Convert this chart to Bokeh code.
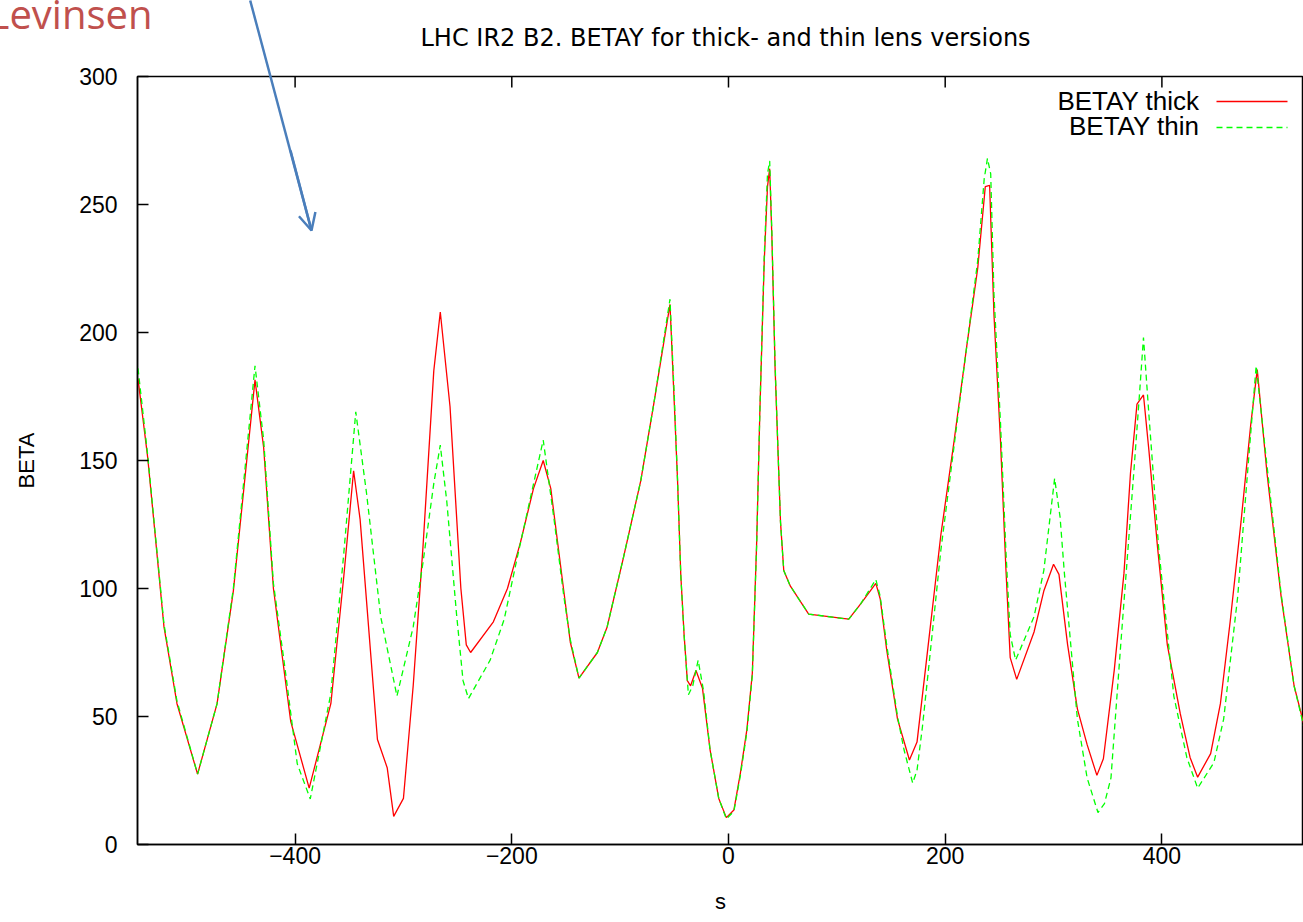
from bokeh.plotting import figure
from bokeh.models import Range1d, FixedTicker, Label, Arrow, OpenHead, ColumnDataSource
from bokeh.core.properties import value
from bokeh.embed import file_html
from bokeh.resources import INLINE

# ---------------- data ----------------
title_text = "LHC IR2 B2. BETAY for thick- and thin lens versions"
x_label = "s"
y_label = "BETA"
series_names = ["BETAY thick", "BETAY thin"]
note_text = "Levinsen"

x_ticks = [-400, -200, 0, 200, 400]
y_ticks = [0, 50, 100, 150, 200, 250, 300]

thick_s = [-545, -536, -521, -509, -490, -472, -457, -437, -429, -420,
           -404, -387, -367, -355, -346, -340, -324, -315, -309, -300,
           -291, -282, -272, -266, -257, -247, -242, -238, -217, -204,
           -192, -180, -171, -164, -155, -146, -138, -121, -112, -97,
           -81, -69, -54, -50, -47, -44, -41, -38, -35, -30,
           -24, -17, -9, -2, 5, 11, 17, 22, 26, 29,
           33, 36, 38, 40, 43, 46, 48, 51, 57, 74,
           111, 122, 136, 140, 146, 156, 167, 174, 183, 196,
           208, 220, 230, 237, 241, 245, 251, 256, 260, 266,
           282, 291, 300, 305, 313, 322, 331, 340, 346, 356,
           365, 371, 377, 383, 388, 396, 405, 417, 426, 433,
           445, 454, 463, 473, 482, 488, 497, 510, 522, 531]
thick_beta = [182, 151, 85, 55, 27.5, 55, 99, 181.5, 155, 100,
              48, 22, 55, 105, 146, 127, 41, 30, 11, 18,
              62, 116, 185, 208, 171, 100, 78, 75, 87, 100,
              118, 139, 150, 139, 109, 79, 65, 75, 85, 112,
              142, 172, 211, 172, 142, 105, 82, 64, 62, 68,
              61, 37, 18, 10.5, 13.5, 28, 45, 67, 118, 170,
              228, 257, 264, 238, 186, 150, 126, 107, 101, 90,
              88, 94, 102, 96, 76, 49, 33, 40, 73, 121,
              157, 195, 225, 257, 257.5, 207, 158, 108, 73, 64.5,
              83, 99, 109.5, 105.5, 78, 53, 39, 27, 33.5, 68,
              106, 145, 172, 175.6, 154, 116, 78, 51, 34, 26.3,
              35.5, 55, 87, 126, 164, 185.5, 145, 97, 62, 47]

thin_s = [-545, -536, -521, -509, -490, -472, -457, -437, -429, -420,
          -410, -398, -386, -367, -355, -344, -334, -321, -306, -291,
          -282, -272, -266, -260, -251, -245, -240, -220, -207, -195,
          -183, -171, -161, -152, -146, -138, -121, -112, -97, -81,
          -69, -54, -50, -47, -44, -41, -37, -33, -28, -23,
          -17, -9, -2, 5, 11, 17, 22, 26, 29, 33,
          36, 38, 40, 43, 46, 48, 51, 57, 74, 111,
          122, 136, 140, 146, 156, 162, 170, 174, 179, 185,
          196, 208, 220, 230, 236, 239, 242, 245, 251, 256,
          260, 265, 282, 291, 301, 306, 310, 322, 331, 341,
          347, 353, 362, 374, 379, 383, 388, 397, 411, 423,
          433, 448, 457, 470, 479, 487, 497, 510, 522, 531]
thin_beta = [186, 152, 86, 56, 27.5, 55, 100, 187, 158, 102,
             71, 31.5, 17.8, 59, 114, 169, 137, 89, 58, 85,
             110, 141, 156, 134, 90, 64, 57, 72, 88, 112,
             135, 158, 127, 97, 80, 65, 75, 85, 112, 142,
             172, 213, 175, 142, 105, 82, 58.5, 62, 72, 60,
             37, 18, 10, 13, 27, 44, 66, 117, 170, 230,
             262, 267, 240, 188, 150, 126, 107, 101, 90, 88,
             94, 103.5, 97, 78, 50, 37, 24, 29, 46, 70,
             115, 155, 195, 228, 260, 268, 262, 215, 165, 115,
             82, 72, 89, 107, 143, 128, 106, 49, 26, 12.5,
             16, 26, 78, 145, 174, 198, 168, 116, 58, 34,
             22, 32, 49, 97, 145, 187, 148, 98, 62, 46]

# ---------------- layout / styles ----------------
FRAME_L, FRAME_T = 137, 76
FRAME_W, FRAME_H = 1166, 768
X0 = -545.45
X1 = X0 + FRAME_W / 1.0835
Y0, Y1 = 0, 300
RED = "#ff0000"
GREEN = "#00ff00"
BLUE = "#4a7ebb"
NOTE_RED = "#c0504d"
FONT = "Liberation Sans"
TICK = 11

# canvas pixel -> data coordinates (used for decorations only)
def px2x(px):
    return X0 + (px - FRAME_L) * (X1 - X0) / FRAME_W

def py2y(py):
    return Y1 - (py - FRAME_T) * (Y1 - Y0) / FRAME_H

p = figure(frame_width=FRAME_W, frame_height=FRAME_H,
           x_range=Range1d(X0, X1), y_range=Range1d(Y0, Y1),
           output_backend="svg", toolbar_location=None,
           min_border_left=FRAME_L, min_border_right=0,
           min_border_top=FRAME_T, min_border_bottom=78,
           title=title_text, x_axis_label=x_label, y_axis_label=y_label)
p.outline_line_color = "black"
p.outline_line_width = 1.5
p.grid.visible = False
p.background_fill_color = "white"
p.border_fill_color = "white"

p.title.align = "left"
p.title.offset = 420 - FRAME_L
p.title.vertical_align = "top"
p.title.text_font = "DejaVu Sans"
p.title.text_font_size = "24px"
p.title.text_font_style = "normal"
p.title.text_color = "black"
p.title.standoff = 45

for ax in (p.xaxis[0], p.yaxis[0]):
    ax.major_tick_in = TICK
    ax.major_tick_out = 0
    ax.minor_tick_line_color = None
    ax.axis_line_width = 1.5
    ax.major_tick_line_width = 1.5
    ax.major_label_text_font = FONT
    ax.major_label_text_font_size = "23px"
    ax.major_label_text_color = "black"
    ax.axis_label_text_font = FONT
    ax.axis_label_text_font_size = "22px"
    ax.axis_label_text_font_style = "normal"
    ax.axis_label_text_color = "black"

p.xaxis[0].ticker = FixedTicker(ticks=x_ticks)
p.yaxis[0].ticker = FixedTicker(ticks=y_ticks)
p.xaxis[0].major_label_standoff = 2
p.xaxis[0].axis_label_standoff = 22
p.yaxis[0].major_label_standoff = 20
p.yaxis[0].axis_label_standoff = 37

# mirrored inward ticks on the top border (gnuplot style)
p.segment(x0=x_ticks, y0=[Y1] * len(x_ticks), x1=x_ticks,
          y1=[Y1 - TICK * (Y1 - Y0) / FRAME_H] * len(x_ticks),
          line_color="black", line_width=1.5)

src_thick = ColumnDataSource(dict(s=thick_s, beta=thick_beta))
src_thin = ColumnDataSource(dict(s=thin_s, beta=thin_beta))
p.line("s", "beta", source=src_thick, line_color=RED, line_width=1.3)
p.line("s", "beta", source=src_thin, line_color=GREEN, line_width=1.3, line_dash="6 4")

# gnuplot-style key: text right-aligned, sample line to the right
for name, col, dash, ty, ly in [(series_names[0], RED, "solid", 100.5, 101),
                                (series_names[1], GREEN, "6 4", 125.5, 127)]:
    p.add_layout(Label(x=px2x(1199), y=py2y(ty), text=name, text_align="right",
                       text_baseline="alphabetic", text_font=FONT,
                       text_font_size="26px", text_color="black"))
    p.add_layout(Arrow(end=None, x_start=px2x(1216), y_start=py2y(ly),
                       x_end=px2x(1287), y_end=py2y(ly),
                       line_color=col, line_width=1.3, line_dash=dash))

# slide annotation: "Levinsen" and the blue arrow (drawn above the frame)
p.text(x=[px2x(-12)], y=[py2y(13)], text=[note_text], text_font=value("Open Sans"),
       text_font_size=value("40px"), text_color=NOTE_RED,
       text_baseline="alphabetic", level="overlay")
p.segment(x0=[px2x(249.7)], y0=[py2y(0)], x1=[px2x(311)], y1=[py2y(230)],
          line_color=BLUE, line_width=2.5, level="overlay")
p.add_layout(Arrow(end=OpenHead(size=17, line_color=BLUE, line_width=2.5),
                   x_start=px2x(290), y_start=py2y(150),
                   x_end=px2x(311), y_end=py2y(230),
                   line_color=BLUE, line_width=2.5))

open("out.html", "w").write(file_html(p, INLINE))
